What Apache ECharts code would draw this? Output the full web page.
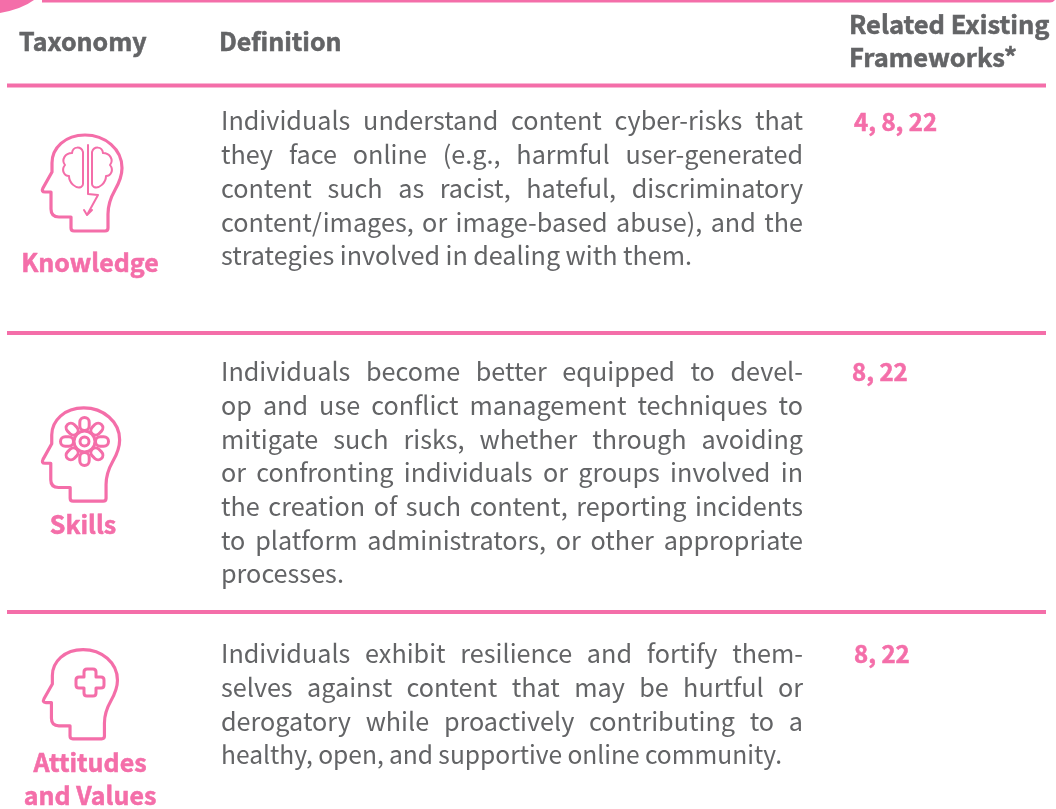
<!DOCTYPE html>
<html><head><meta charset="utf-8">
<script src="https://cdn.jsdelivr.net/npm/echarts@6/dist/echarts.min.js"></script>
<style>html,body{margin:0;padding:0;background:#fff}#c{width:1056px;height:809px}</style></head>
<body><div id="c"></div>
<script>
const headers = ['Taxonomy', 'Definition', 'Related Existing', 'Frameworks*'];
const knowledgeName = ['Knowledge'];
const skillsName = ['Skills'];
const attitudesName = ['Attitudes', 'and Values'];
const knowledgeLines = ['Individuals understand content cyber-risks that','they face online (e.g., harmful user-generated','content such as racist, hateful, discriminatory','content/images, or image-based abuse), and the','strategies involved in dealing with them.'];
const skillsLines = ['Individuals become better equipped to devel-','op and use conflict management techniques to','mitigate such risks, whether through avoiding','or confronting individuals or groups involved in','the creation of such content, reporting incidents','to platform administrators, or other appropriate','processes.'];
const attitudesLines = ['Individuals exhibit resilience and fortify them-','selves against content that may be hurtful or','derogatory while proactively contributing to a','healthy, open, and supportive online community.'];
const knowledgeRefs = '4, 8, 22';
const skillsRefs = '8, 22';
const attitudesRefs = '8, 22';

const PINK = '#f46ea9', GREY = '#636466';
const FONT = '"Noto Sans CJK SC"';
const BODY = 25.2, HEAD = 25;
const ctx = document.createElement('canvas').getContext('2d');
const els = [];
function text(s, x, y, size, weight, color, align) {
  const st = {text:s, fontFamily:FONT, fontSize:size, fontWeight:weight, fill:color, align:align||'left', verticalAlign:'middle'};
  if (weight >= 700) { st.stroke = color; st.lineWidth = 0.55; }
  els.push({type:'text', x, y, style:st});
}
function fit(ln, y, L, R, size) {
  ctx.font = '400 ' + size + 'px ' + FONT;
  const words = ln.split(' ');
  const total = words.reduce((a, w) => a + ctx.measureText(w).width, 0);
  const gap = (R - L - total) / Math.max(1, words.length - 1);
  let x = L;
  words.forEach(w => { text(w, x, y, size, 400, GREY); x += ctx.measureText(w).width + gap; });
}
function justified(lines, yStart, step, lastEnd, lastSize) {
  lines.forEach((ln, i) => {
    const last = i === lines.length - 1;
    fit(ln, yStart + i * step, 221, last ? lastEnd : 803, last && lastSize ? lastSize : BODY);
  });
}
function rule(y) {
  els.push({type:'line', shape:{x1:7, y1:y, x2:1046, y2:y}, style:{stroke:PINK, lineWidth:4}});
}
let pid = 0;
function shapeType(d) {
  const name = 'svgPath' + (pid++);
  echarts.graphic.registerShape(name, echarts.graphic.extendPath(d, {}));
  return name;
}
const HEAD_PATH = 'M71 217 L71 228 Q71 231 74 231 L105 231 Q108 231 108 228 L108 214 C108 205 111 197 115 190 C119 183 122 176 122 168 C122 149 105 135 85 135 C65 135 52 148 52 163 L52 172 L43 188 Q41 192 45 192 L51 192 L51 209 Q51 217 59 217 Z';
function pathEl(d, lw, extra) {
  els.push(Object.assign({type:shapeType(d), style:{fill:'none', stroke:PINK, lineWidth:lw, lineJoin:'round', lineCap:'round'}}, extra||{}));
}

// Frame
els.push({type:shapeType('M0 0 L34 0 Q22 9 0 13 Z'), style:{fill:PINK}});
els.push({type:shapeType('M42 0 L1055 0 Q1053 2.5 1050 2.5 L42 2.5 Z'), style:{fill:PINK}});
rule(85.5); rule(333); rule(612);

// Header
text(headers[0], 19, 41.5, HEAD, 700, GREY);
text(headers[1], 219, 41.5, HEAD, 700, GREY);
text(headers[2], 849, 24.5, 25.5, 700, GREY);
text(headers[3], 849, 57.5, 25.5, 700, GREY);

// Rows
justified(knowledgeLines, 120.7, 33.8, 692);
justified(skillsLines, 371.7, 33.7, 342);
justified(attitudesLines, 653.7, 33.7, 782, 24.6);
text(knowledgeRefs, 854, 122, 24, 700, PINK);
text(skillsRefs, 852, 372, 24, 700, PINK);
text(attitudesRefs, 854, 654, 24, 700, PINK);
text(knowledgeName[0], 90, 262.5, 25, 700, PINK, 'center');
text(skillsName[0], 83, 524.5, 25, 700, PINK, 'center');
text(attitudesName[0], 90, 762.5, 25, 700, PINK, 'center');
text(attitudesName[1], 90, 795.5, 25, 700, PINK, 'center');

// Icons
pathEl(HEAD_PATH, 3.2);
pathEl('M83 152 C81 146 73 146 72 153 C65 153 61 160 65 165 C61 170 64 176 69 176 C69 183 76 189 81 187 Q83 186 83 184 Z', 2);
pathEl('M92 152 C94 146 102 146 103 153 C110 153 114 160 110 165 C114 170 111 176 106 176 C106 183 99 189 94 187 Q92 186 92 184 Z', 2);
pathEl('M88 145 L88 194 L98 195 L87 215 M84 210 L87 215 L92 210', 2);

// Skills head: same outline, rescaled
pathEl(HEAD_PATH, 3.3, {x:1.3, y:277, scaleX:0.97, scaleY:0.97});
const fc = [84.5, 441.5];
for (let i = 0; i < 8; i++) {
  const a = i * Math.PI / 4;
  els.push({type:'rect', x:fc[0], y:fc[1], rotation:a, shape:{x:11, y:-4.7, width:13, height:9.4, r:4.7}, style:{fill:'#fff', stroke:PINK, lineWidth:3}});
}
els.push({type:'circle', shape:{cx:fc[0], cy:fc[1], r:10.5}, style:{fill:'#fff', stroke:PINK, lineWidth:3}});
els.push({type:'circle', shape:{cx:fc[0], cy:fc[1], r:4.5}, style:{fill:'none', stroke:PINK, lineWidth:3}});

// Attitudes head
pathEl(HEAD_PATH, 3.4, {x:4, y:524, scaleX:0.93, scaleY:0.93});
pathEl('M84 672 Q84 669 87 669 L93 669 Q96 669 96 672 L96 677 L101 677 Q104 677 104 680 L104 685 Q104 688 101 688 L96 688 L96 693 Q96 696 93 696 L87 696 Q84 696 84 693 L84 688 L79 688 Q76 688 76 685 L76 680 Q76 677 79 677 L84 677 Z', 3);

const chart = echarts.init(document.getElementById('c'), null, {renderer:'canvas', width:1056, height:809});
chart.setOption({animation:false, backgroundColor:'#fff', graphic:{elements:els}});
</script></body></html>
